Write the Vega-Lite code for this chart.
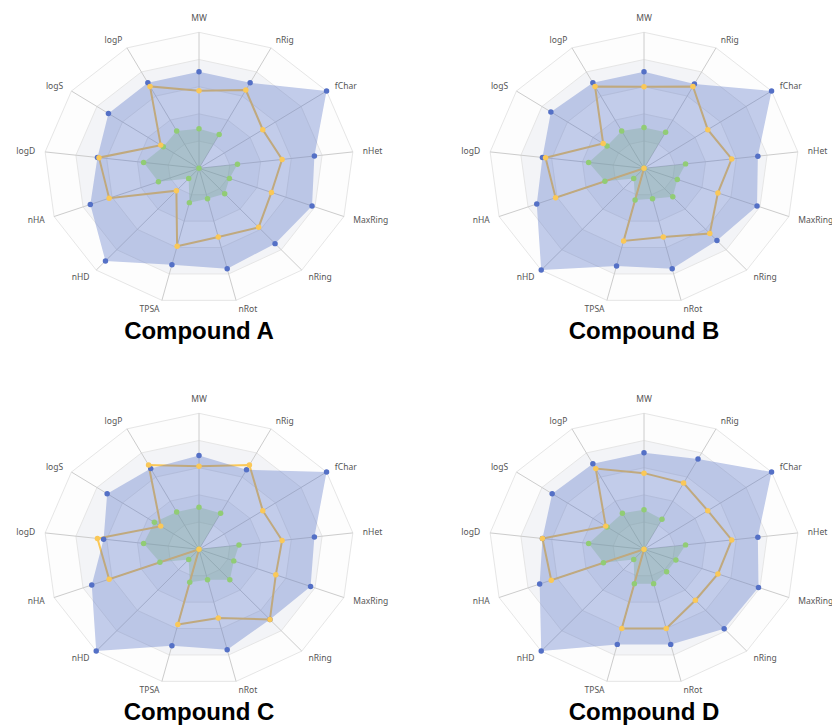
{
  "$schema": "https://vega.github.io/schema/vega-lite/v6.json",
  "padding": 0,
  "background": "white",
  "bounds": "flush",
  "columns": 2,
  "spacing": {"row": 65, "column": 47},
  "config": {"view": {"stroke": null}},
  "datasets": {
    "grid": [
      {"axis": "MW", "idx": 0, "levels": [1, 0.8, 0.6, 0.4, 0.2]},
      {"axis": "nRig", "idx": 1, "levels": [1, 0.8, 0.6, 0.4, 0.2]},
      {"axis": "fChar", "idx": 2, "levels": [1, 0.8, 0.6, 0.4, 0.2]},
      {"axis": "nHet", "idx": 3, "levels": [1, 0.8, 0.6, 0.4, 0.2]},
      {"axis": "MaxRing", "idx": 4, "levels": [1, 0.8, 0.6, 0.4, 0.2]},
      {"axis": "nRing", "idx": 5, "levels": [1, 0.8, 0.6, 0.4, 0.2]},
      {"axis": "nRot", "idx": 6, "levels": [1, 0.8, 0.6, 0.4, 0.2]},
      {"axis": "TPSA", "idx": 7, "levels": [1, 0.8, 0.6, 0.4, 0.2]},
      {"axis": "nHD", "idx": 8, "levels": [1, 0.8, 0.6, 0.4, 0.2]},
      {"axis": "nHA", "idx": 9, "levels": [1, 0.8, 0.6, 0.4, 0.2]},
      {"axis": "logD", "idx": 10, "levels": [1, 0.8, 0.6, 0.4, 0.2]},
      {"axis": "logS", "idx": 11, "levels": [1, 0.8, 0.6, 0.4, 0.2]},
      {"axis": "logP", "idx": 12, "levels": [1, 0.8, 0.6, 0.4, 0.2]}
    ],
    "radar": [
      {"compound": "A", "axis": "MW", "idx": 0, "upper": 0.71, "value": 0.57, "lower": 0.29},
      {"compound": "A", "axis": "nRig", "idx": 1, "upper": 0.71, "value": 0.65, "lower": 0.28},
      {"compound": "A", "axis": "fChar", "idx": 2, "upper": 1.0, "value": 0.5, "lower": 0},
      {"compound": "A", "axis": "nHet", "idx": 3, "upper": 0.75, "value": 0.54, "lower": 0.25},
      {"compound": "A", "axis": "MaxRing", "idx": 4, "upper": 0.78, "value": 0.5, "lower": 0.21},
      {"compound": "A", "axis": "nRing", "idx": 5, "upper": 0.74, "value": 0.58, "lower": 0.25},
      {"compound": "A", "axis": "nRot", "idx": 6, "upper": 0.76, "value": 0.52, "lower": 0.23},
      {"compound": "A", "axis": "TPSA", "idx": 7, "upper": 0.73, "value": 0.59, "lower": 0.26},
      {"compound": "A", "axis": "nHD", "idx": 8, "upper": 0.91, "value": 0.22, "lower": 0.1},
      {"compound": "A", "axis": "nHA", "idx": 9, "upper": 0.75, "value": 0.62, "lower": 0.28},
      {"compound": "A", "axis": "logD", "idx": 10, "upper": 0.66, "value": 0.65, "lower": 0.36},
      {"compound": "A", "axis": "logS", "idx": 11, "upper": 0.71, "value": 0.3, "lower": 0.28},
      {"compound": "A", "axis": "logP", "idx": 12, "upper": 0.71, "value": 0.68, "lower": 0.31},
      {"compound": "B", "axis": "MW", "idx": 0, "upper": 0.71, "value": 0.6, "lower": 0.3},
      {"compound": "B", "axis": "nRig", "idx": 1, "upper": 0.7, "value": 0.68, "lower": 0.3},
      {"compound": "B", "axis": "fChar", "idx": 2, "upper": 1.0, "value": 0.5, "lower": 0},
      {"compound": "B", "axis": "nHet", "idx": 3, "upper": 0.74, "value": 0.57, "lower": 0.27},
      {"compound": "B", "axis": "MaxRing", "idx": 4, "upper": 0.78, "value": 0.51, "lower": 0.23},
      {"compound": "B", "axis": "nRing", "idx": 5, "upper": 0.71, "value": 0.64, "lower": 0.28},
      {"compound": "B", "axis": "nRot", "idx": 6, "upper": 0.76, "value": 0.52, "lower": 0.23},
      {"compound": "B", "axis": "TPSA", "idx": 7, "upper": 0.74, "value": 0.55, "lower": 0.24},
      {"compound": "B", "axis": "nHD", "idx": 8, "upper": 1.0, "value": 0, "lower": 0.1},
      {"compound": "B", "axis": "nHA", "idx": 9, "upper": 0.74, "value": 0.61, "lower": 0.27},
      {"compound": "B", "axis": "logD", "idx": 10, "upper": 0.66, "value": 0.64, "lower": 0.36},
      {"compound": "B", "axis": "logS", "idx": 11, "upper": 0.73, "value": 0.32, "lower": 0.29},
      {"compound": "B", "axis": "logP", "idx": 12, "upper": 0.71, "value": 0.68, "lower": 0.31},
      {"compound": "C", "axis": "MW", "idx": 0, "upper": 0.69, "value": 0.61, "lower": 0.31},
      {"compound": "C", "axis": "nRig", "idx": 1, "upper": 0.66, "value": 0.7, "lower": 0.3},
      {"compound": "C", "axis": "fChar", "idx": 2, "upper": 1.0, "value": 0.5, "lower": 0},
      {"compound": "C", "axis": "nHet", "idx": 3, "upper": 0.75, "value": 0.54, "lower": 0.26},
      {"compound": "C", "axis": "MaxRing", "idx": 4, "upper": 0.77, "value": 0.53, "lower": 0.24},
      {"compound": "C", "axis": "nRing", "idx": 5, "upper": 0.69, "value": 0.69, "lower": 0.3},
      {"compound": "C", "axis": "nRot", "idx": 6, "upper": 0.76, "value": 0.52, "lower": 0.23},
      {"compound": "C", "axis": "TPSA", "idx": 7, "upper": 0.73, "value": 0.57, "lower": 0.25},
      {"compound": "C", "axis": "nHD", "idx": 8, "upper": 1.0, "value": 0, "lower": 0.1},
      {"compound": "C", "axis": "nHA", "idx": 9, "upper": 0.74, "value": 0.62, "lower": 0.27},
      {"compound": "C", "axis": "logD", "idx": 10, "upper": 0.62, "value": 0.66, "lower": 0.36},
      {"compound": "C", "axis": "logS", "idx": 11, "upper": 0.72, "value": 0.3, "lower": 0.35},
      {"compound": "C", "axis": "logP", "idx": 12, "upper": 0.67, "value": 0.7, "lower": 0.31},
      {"compound": "D", "axis": "MW", "idx": 0, "upper": 0.71, "value": 0.56, "lower": 0.29},
      {"compound": "D", "axis": "nRig", "idx": 1, "upper": 0.75, "value": 0.55, "lower": 0.25},
      {"compound": "D", "axis": "fChar", "idx": 2, "upper": 1.0, "value": 0.5, "lower": 0},
      {"compound": "D", "axis": "nHet", "idx": 3, "upper": 0.74, "value": 0.57, "lower": 0.27},
      {"compound": "D", "axis": "MaxRing", "idx": 4, "upper": 0.79, "value": 0.51, "lower": 0.22},
      {"compound": "D", "axis": "nRing", "idx": 5, "upper": 0.78, "value": 0.5, "lower": 0.22},
      {"compound": "D", "axis": "nRot", "idx": 6, "upper": 0.72, "value": 0.6, "lower": 0.26},
      {"compound": "D", "axis": "TPSA", "idx": 7, "upper": 0.72, "value": 0.6, "lower": 0.26},
      {"compound": "D", "axis": "nHD", "idx": 8, "upper": 1.0, "value": 0, "lower": 0.1},
      {"compound": "D", "axis": "nHA", "idx": 9, "upper": 0.72, "value": 0.64, "lower": 0.28},
      {"compound": "D", "axis": "logD", "idx": 10, "upper": 0.66, "value": 0.66, "lower": 0.36},
      {"compound": "D", "axis": "logS", "idx": 11, "upper": 0.72, "value": 0.3, "lower": 0.29},
      {"compound": "D", "axis": "logP", "idx": 12, "upper": 0.71, "value": 0.67, "lower": 0.3}
    ]
  },
  "concat": [
    {
      "width": 398, "height": 316,
      "title": {"text": "Compound A", "orient": "bottom", "anchor": "middle", "font": "Liberation Sans", "fontSize": 24, "fontWeight": "bold", "color": "#000000", "baseline": "top", "offset": 3.5},
      "encoding": {
        "x": {"field": "x", "type": "quantitative", "scale": {"domain": [-1.284, 1.284], "nice": false, "zero": false}, "axis": null},
        "y": {"field": "y", "type": "quantitative", "scale": {"domain": [-1.086, 1.2375], "nice": false, "zero": false}, "axis": null}
      },
      "layer": [
        {"data": {"name": "grid"}, "transform": [{"flatten": ["levels"], "as": ["level"]}, {"calculate": "datum.level*sin(2*PI*datum.idx/13)", "as": "x"}, {"calculate": "datum.level*cos(2*PI*datum.idx/13)", "as": "y"}],
         "mark": {"type": "line", "interpolate": "linear-closed", "stroke": "#e6e6e6", "strokeWidth": 1},
         "encoding": {"order": {"field": "idx"}, "detail": {"field": "level"}, "fill": {"field": "level", "type": "nominal", "scale": {"domain": [1, 0.8, 0.6, 0.4, 0.2], "range": ["#fdfdfd", "#f3f4f7", "#fdfdfd", "#f3f4f7", "#fdfdfd"]}, "legend": null}}},
        {"data": {"name": "grid"}, "transform": [{"calculate": "sin(2*PI*datum.idx/13)", "as": "x"}, {"calculate": "cos(2*PI*datum.idx/13)", "as": "y"}],
         "mark": {"type": "rule", "stroke": "#cccccc", "strokeWidth": 1},
         "encoding": {"x2": {"datum": 0}, "y2": {"datum": 0}}},
        {"data": {"name": "grid"}, "transform": [{"calculate": "1.065*sin(2*PI*datum.idx/13)", "as": "x"}, {"calculate": "1.065*cos(2*PI*datum.idx/13)", "as": "y"}],
         "mark": {"type": "text", "font": "Noto Sans", "fontSize": 8.5, "color": "#555555", "baseline": {"expr": "datum.idx == 0 ? 'bottom' : 'middle'"}, "align": {"expr": "datum.idx == 0 ? 'center' : (datum.idx <= 6 ? 'left' : 'right')"}},
         "encoding": {"text": {"field": "axis"}}},
        {"data": {"name": "radar"}, "transform": [{"filter": "datum.compound == 'A'"}, {"calculate": "datum.lower*sin(2*PI*datum.idx/13)", "as": "x"}, {"calculate": "datum.lower*cos(2*PI*datum.idx/13)", "as": "y"}],
         "mark": {"type": "line", "interpolate": "linear-closed", "fill": "#91cc75", "fillOpacity": 0.35, "strokeWidth": 0},
         "encoding": {"order": {"field": "idx"}}},
        {"data": {"name": "radar"}, "transform": [{"filter": "datum.compound == 'A'"}, {"calculate": "datum.value*sin(2*PI*datum.idx/13)", "as": "x"}, {"calculate": "datum.value*cos(2*PI*datum.idx/13)", "as": "y"}],
         "mark": {"type": "line", "interpolate": "linear-closed", "stroke": "#fac858", "strokeWidth": 2},
         "encoding": {"order": {"field": "idx"}}},
        {"data": {"name": "radar"}, "transform": [{"filter": "datum.compound == 'A'"}, {"calculate": "datum.upper*sin(2*PI*datum.idx/13)", "as": "x"}, {"calculate": "datum.upper*cos(2*PI*datum.idx/13)", "as": "y"}],
         "mark": {"type": "line", "interpolate": "linear-closed", "fill": "#5470c6", "fillOpacity": 0.35, "strokeWidth": 0},
         "encoding": {"order": {"field": "idx"}}},
        {"data": {"name": "radar"}, "transform": [{"filter": "datum.compound == 'A'"}, {"fold": ["lower", "upper", "value"], "as": ["series", "r"]}, {"calculate": "datum.r*sin(2*PI*datum.idx/13)", "as": "x"}, {"calculate": "datum.r*cos(2*PI*datum.idx/13)", "as": "y"}],
         "mark": {"type": "circle", "size": 30, "opacity": 1},
         "encoding": {"color": {"field": "series", "type": "nominal", "scale": {"domain": ["upper", "value", "lower"], "range": ["#5470c6", "#fac858", "#91cc75"]}, "legend": null}}}
      ]
    },
    {
      "width": 387, "height": 316,
      "title": {"text": "Compound B", "orient": "bottom", "anchor": "middle", "font": "Liberation Sans", "fontSize": 24, "fontWeight": "bold", "color": "#000000", "baseline": "top", "offset": 3.5, "dx": 5.5},
      "encoding": {
        "x": {"field": "x", "type": "quantitative", "scale": {"domain": [-1.284, 1.213], "nice": false, "zero": false}, "axis": null},
        "y": {"field": "y", "type": "quantitative", "scale": {"domain": [-1.086, 1.2375], "nice": false, "zero": false}, "axis": null}
      },
      "layer": [
        {"data": {"name": "grid"}, "transform": [{"flatten": ["levels"], "as": ["level"]}, {"calculate": "datum.level*sin(2*PI*datum.idx/13)", "as": "x"}, {"calculate": "datum.level*cos(2*PI*datum.idx/13)", "as": "y"}],
         "mark": {"type": "line", "interpolate": "linear-closed", "stroke": "#e6e6e6", "strokeWidth": 1},
         "encoding": {"order": {"field": "idx"}, "detail": {"field": "level"}, "fill": {"field": "level", "type": "nominal", "scale": {"domain": [1, 0.8, 0.6, 0.4, 0.2], "range": ["#fdfdfd", "#f3f4f7", "#fdfdfd", "#f3f4f7", "#fdfdfd"]}, "legend": null}}},
        {"data": {"name": "grid"}, "transform": [{"calculate": "sin(2*PI*datum.idx/13)", "as": "x"}, {"calculate": "cos(2*PI*datum.idx/13)", "as": "y"}],
         "mark": {"type": "rule", "stroke": "#cccccc", "strokeWidth": 1},
         "encoding": {"x2": {"datum": 0}, "y2": {"datum": 0}}},
        {"data": {"name": "grid"}, "transform": [{"calculate": "1.065*sin(2*PI*datum.idx/13)", "as": "x"}, {"calculate": "1.065*cos(2*PI*datum.idx/13)", "as": "y"}],
         "mark": {"type": "text", "clip": true, "font": "Noto Sans", "fontSize": 8.5, "color": "#555555", "baseline": {"expr": "datum.idx == 0 ? 'bottom' : 'middle'"}, "align": {"expr": "datum.idx == 0 ? 'center' : (datum.idx <= 6 ? 'left' : 'right')"}},
         "encoding": {"text": {"field": "axis"}}},
        {"data": {"name": "radar"}, "transform": [{"filter": "datum.compound == 'B'"}, {"calculate": "datum.lower*sin(2*PI*datum.idx/13)", "as": "x"}, {"calculate": "datum.lower*cos(2*PI*datum.idx/13)", "as": "y"}],
         "mark": {"type": "line", "interpolate": "linear-closed", "fill": "#91cc75", "fillOpacity": 0.35, "strokeWidth": 0},
         "encoding": {"order": {"field": "idx"}}},
        {"data": {"name": "radar"}, "transform": [{"filter": "datum.compound == 'B'"}, {"calculate": "datum.value*sin(2*PI*datum.idx/13)", "as": "x"}, {"calculate": "datum.value*cos(2*PI*datum.idx/13)", "as": "y"}],
         "mark": {"type": "line", "interpolate": "linear-closed", "stroke": "#fac858", "strokeWidth": 2},
         "encoding": {"order": {"field": "idx"}}},
        {"data": {"name": "radar"}, "transform": [{"filter": "datum.compound == 'B'"}, {"calculate": "datum.upper*sin(2*PI*datum.idx/13)", "as": "x"}, {"calculate": "datum.upper*cos(2*PI*datum.idx/13)", "as": "y"}],
         "mark": {"type": "line", "interpolate": "linear-closed", "fill": "#5470c6", "fillOpacity": 0.35, "strokeWidth": 0},
         "encoding": {"order": {"field": "idx"}}},
        {"data": {"name": "radar"}, "transform": [{"filter": "datum.compound == 'B'"}, {"fold": ["lower", "upper", "value"], "as": ["series", "r"]}, {"calculate": "datum.r*sin(2*PI*datum.idx/13)", "as": "x"}, {"calculate": "datum.r*cos(2*PI*datum.idx/13)", "as": "y"}],
         "mark": {"type": "circle", "size": 30, "opacity": 1},
         "encoding": {"color": {"field": "series", "type": "nominal", "scale": {"domain": ["upper", "value", "lower"], "range": ["#5470c6", "#fac858", "#91cc75"]}, "legend": null}}}
      ]
    },
    {
      "width": 398, "height": 316,
      "title": {"text": "Compound C", "orient": "bottom", "anchor": "middle", "font": "Liberation Sans", "fontSize": 24, "fontWeight": "bold", "color": "#000000", "baseline": "top", "offset": 3.5},
      "encoding": {
        "x": {"field": "x", "type": "quantitative", "scale": {"domain": [-1.284, 1.284], "nice": false, "zero": false}, "axis": null},
        "y": {"field": "y", "type": "quantitative", "scale": {"domain": [-1.086, 1.2375], "nice": false, "zero": false}, "axis": null}
      },
      "layer": [
        {"data": {"name": "grid"}, "transform": [{"flatten": ["levels"], "as": ["level"]}, {"calculate": "datum.level*sin(2*PI*datum.idx/13)", "as": "x"}, {"calculate": "datum.level*cos(2*PI*datum.idx/13)", "as": "y"}],
         "mark": {"type": "line", "interpolate": "linear-closed", "stroke": "#e6e6e6", "strokeWidth": 1},
         "encoding": {"order": {"field": "idx"}, "detail": {"field": "level"}, "fill": {"field": "level", "type": "nominal", "scale": {"domain": [1, 0.8, 0.6, 0.4, 0.2], "range": ["#fdfdfd", "#f3f4f7", "#fdfdfd", "#f3f4f7", "#fdfdfd"]}, "legend": null}}},
        {"data": {"name": "grid"}, "transform": [{"calculate": "sin(2*PI*datum.idx/13)", "as": "x"}, {"calculate": "cos(2*PI*datum.idx/13)", "as": "y"}],
         "mark": {"type": "rule", "stroke": "#cccccc", "strokeWidth": 1},
         "encoding": {"x2": {"datum": 0}, "y2": {"datum": 0}}},
        {"data": {"name": "grid"}, "transform": [{"calculate": "1.065*sin(2*PI*datum.idx/13)", "as": "x"}, {"calculate": "1.065*cos(2*PI*datum.idx/13)", "as": "y"}],
         "mark": {"type": "text", "font": "Noto Sans", "fontSize": 8.5, "color": "#555555", "baseline": {"expr": "datum.idx == 0 ? 'bottom' : 'middle'"}, "align": {"expr": "datum.idx == 0 ? 'center' : (datum.idx <= 6 ? 'left' : 'right')"}},
         "encoding": {"text": {"field": "axis"}}},
        {"data": {"name": "radar"}, "transform": [{"filter": "datum.compound == 'C'"}, {"calculate": "datum.lower*sin(2*PI*datum.idx/13)", "as": "x"}, {"calculate": "datum.lower*cos(2*PI*datum.idx/13)", "as": "y"}],
         "mark": {"type": "line", "interpolate": "linear-closed", "fill": "#91cc75", "fillOpacity": 0.35, "strokeWidth": 0},
         "encoding": {"order": {"field": "idx"}}},
        {"data": {"name": "radar"}, "transform": [{"filter": "datum.compound == 'C'"}, {"calculate": "datum.value*sin(2*PI*datum.idx/13)", "as": "x"}, {"calculate": "datum.value*cos(2*PI*datum.idx/13)", "as": "y"}],
         "mark": {"type": "line", "interpolate": "linear-closed", "stroke": "#fac858", "strokeWidth": 2},
         "encoding": {"order": {"field": "idx"}}},
        {"data": {"name": "radar"}, "transform": [{"filter": "datum.compound == 'C'"}, {"calculate": "datum.upper*sin(2*PI*datum.idx/13)", "as": "x"}, {"calculate": "datum.upper*cos(2*PI*datum.idx/13)", "as": "y"}],
         "mark": {"type": "line", "interpolate": "linear-closed", "fill": "#5470c6", "fillOpacity": 0.35, "strokeWidth": 0},
         "encoding": {"order": {"field": "idx"}}},
        {"data": {"name": "radar"}, "transform": [{"filter": "datum.compound == 'C'"}, {"fold": ["lower", "upper", "value"], "as": ["series", "r"]}, {"calculate": "datum.r*sin(2*PI*datum.idx/13)", "as": "x"}, {"calculate": "datum.r*cos(2*PI*datum.idx/13)", "as": "y"}],
         "mark": {"type": "circle", "size": 30, "opacity": 1},
         "encoding": {"color": {"field": "series", "type": "nominal", "scale": {"domain": ["upper", "value", "lower"], "range": ["#5470c6", "#fac858", "#91cc75"]}, "legend": null}}}
      ]
    },
    {
      "width": 387, "height": 316,
      "title": {"text": "Compound D", "orient": "bottom", "anchor": "middle", "font": "Liberation Sans", "fontSize": 24, "fontWeight": "bold", "color": "#000000", "baseline": "top", "offset": 3.5, "dx": 5.5},
      "encoding": {
        "x": {"field": "x", "type": "quantitative", "scale": {"domain": [-1.284, 1.213], "nice": false, "zero": false}, "axis": null},
        "y": {"field": "y", "type": "quantitative", "scale": {"domain": [-1.086, 1.2375], "nice": false, "zero": false}, "axis": null}
      },
      "layer": [
        {"data": {"name": "grid"}, "transform": [{"flatten": ["levels"], "as": ["level"]}, {"calculate": "datum.level*sin(2*PI*datum.idx/13)", "as": "x"}, {"calculate": "datum.level*cos(2*PI*datum.idx/13)", "as": "y"}],
         "mark": {"type": "line", "interpolate": "linear-closed", "stroke": "#e6e6e6", "strokeWidth": 1},
         "encoding": {"order": {"field": "idx"}, "detail": {"field": "level"}, "fill": {"field": "level", "type": "nominal", "scale": {"domain": [1, 0.8, 0.6, 0.4, 0.2], "range": ["#fdfdfd", "#f3f4f7", "#fdfdfd", "#f3f4f7", "#fdfdfd"]}, "legend": null}}},
        {"data": {"name": "grid"}, "transform": [{"calculate": "sin(2*PI*datum.idx/13)", "as": "x"}, {"calculate": "cos(2*PI*datum.idx/13)", "as": "y"}],
         "mark": {"type": "rule", "stroke": "#cccccc", "strokeWidth": 1},
         "encoding": {"x2": {"datum": 0}, "y2": {"datum": 0}}},
        {"data": {"name": "grid"}, "transform": [{"calculate": "1.065*sin(2*PI*datum.idx/13)", "as": "x"}, {"calculate": "1.065*cos(2*PI*datum.idx/13)", "as": "y"}],
         "mark": {"type": "text", "clip": true, "font": "Noto Sans", "fontSize": 8.5, "color": "#555555", "baseline": {"expr": "datum.idx == 0 ? 'bottom' : 'middle'"}, "align": {"expr": "datum.idx == 0 ? 'center' : (datum.idx <= 6 ? 'left' : 'right')"}},
         "encoding": {"text": {"field": "axis"}}},
        {"data": {"name": "radar"}, "transform": [{"filter": "datum.compound == 'D'"}, {"calculate": "datum.lower*sin(2*PI*datum.idx/13)", "as": "x"}, {"calculate": "datum.lower*cos(2*PI*datum.idx/13)", "as": "y"}],
         "mark": {"type": "line", "interpolate": "linear-closed", "fill": "#91cc75", "fillOpacity": 0.35, "strokeWidth": 0},
         "encoding": {"order": {"field": "idx"}}},
        {"data": {"name": "radar"}, "transform": [{"filter": "datum.compound == 'D'"}, {"calculate": "datum.value*sin(2*PI*datum.idx/13)", "as": "x"}, {"calculate": "datum.value*cos(2*PI*datum.idx/13)", "as": "y"}],
         "mark": {"type": "line", "interpolate": "linear-closed", "stroke": "#fac858", "strokeWidth": 2},
         "encoding": {"order": {"field": "idx"}}},
        {"data": {"name": "radar"}, "transform": [{"filter": "datum.compound == 'D'"}, {"calculate": "datum.upper*sin(2*PI*datum.idx/13)", "as": "x"}, {"calculate": "datum.upper*cos(2*PI*datum.idx/13)", "as": "y"}],
         "mark": {"type": "line", "interpolate": "linear-closed", "fill": "#5470c6", "fillOpacity": 0.35, "strokeWidth": 0},
         "encoding": {"order": {"field": "idx"}}},
        {"data": {"name": "radar"}, "transform": [{"filter": "datum.compound == 'D'"}, {"fold": ["lower", "upper", "value"], "as": ["series", "r"]}, {"calculate": "datum.r*sin(2*PI*datum.idx/13)", "as": "x"}, {"calculate": "datum.r*cos(2*PI*datum.idx/13)", "as": "y"}],
         "mark": {"type": "circle", "size": 30, "opacity": 1},
         "encoding": {"color": {"field": "series", "type": "nominal", "scale": {"domain": ["upper", "value", "lower"], "range": ["#5470c6", "#fac858", "#91cc75"]}, "legend": null}}}
      ]
    }
  ]
}
